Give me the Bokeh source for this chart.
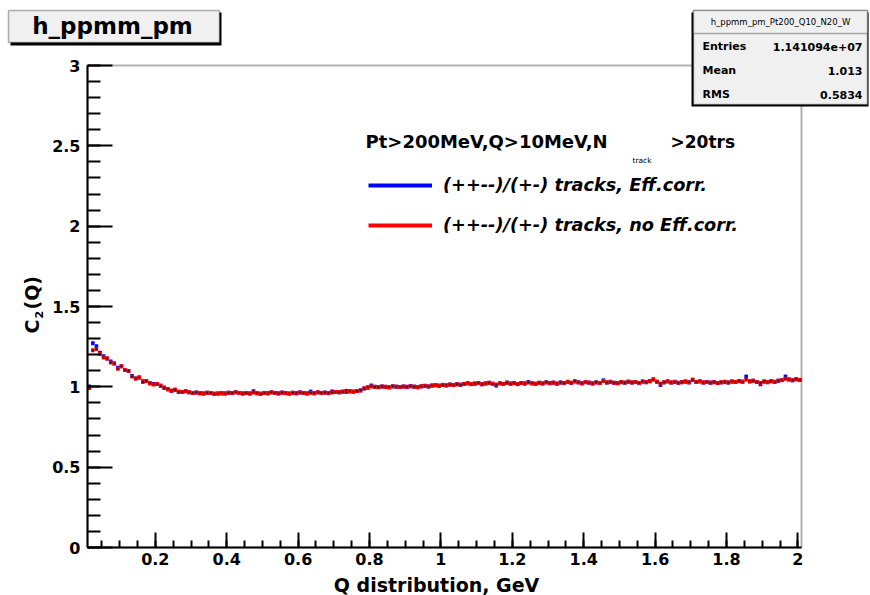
from math import pi
from bokeh.plotting import figure
from bokeh.models import (Range1d, FixedTicker, Label, BoxAnnotation, Legend,
                          LegendItem, ColumnDataSource)
from bokeh.embed import file_html
from bokeh.resources import INLINE

# ---------------- data ----------------
Q_MIN = 0.01
Q_MAX = 2.01
BIN_WIDTH = 0.01
Y_MIN = 0.0
Y_MAX = 3.0

# (++--)/(+-) tracks, no Eff.corr.  (red)
ratio_no_eff = [
    0.992, 1.228, 1.236, 1.205, 1.182, 1.176, 1.152, 1.146, 1.112, 1.128,
    1.104, 1.098, 1.064, 1.052, 1.058, 1.030, 1.036, 1.022, 1.014, 1.018,
    1.006, 0.992, 0.985, 0.976, 0.982, 0.970, 0.968, 0.972, 0.966, 0.962,
    0.965, 0.960, 0.958, 0.963, 0.961, 0.957, 0.959, 0.960, 0.958, 0.963,
    0.961, 0.966, 0.962, 0.958, 0.961, 0.959, 0.964, 0.960, 0.957, 0.962,
    0.960, 0.966, 0.962, 0.959, 0.964, 0.961, 0.958, 0.963, 0.960, 0.965,
    0.962, 0.959, 0.963, 0.960, 0.966, 0.962, 0.964, 0.961, 0.965, 0.968,
    0.966, 0.970, 0.968, 0.972, 0.970, 0.974, 0.978, 0.990, 0.998, 1.002,
    1.000, 0.998, 1.002, 1.000, 0.997, 1.003, 1.001, 0.999, 1.002, 1.000,
    1.004, 1.001, 0.998, 1.003, 1.006, 1.002, 1.008, 1.010, 1.007, 1.012,
    1.009, 1.014, 1.011, 1.016, 1.013, 1.018, 1.022, 1.017, 1.020, 1.024,
    1.016, 1.021, 1.025, 1.019, 1.014, 1.022, 1.018, 1.026, 1.020, 1.023,
    1.017, 1.024, 1.021, 1.027, 1.022, 1.019, 1.025, 1.021, 1.028, 1.023,
    1.026, 1.020, 1.027, 1.024, 1.031, 1.025, 1.034, 1.028, 1.022, 1.029,
    1.026, 1.021, 1.028, 1.024, 1.036, 1.027, 1.031, 1.025, 1.023, 1.029,
    1.026, 1.032, 1.027, 1.030, 1.024, 1.033, 1.029, 1.035, 1.046, 1.032,
    1.020, 1.028, 1.034, 1.027, 1.031, 1.025, 1.029, 1.033, 1.028, 1.044,
    1.030, 1.034, 1.027, 1.030, 1.026, 1.029, 1.024, 1.028, 1.031, 1.027,
    1.033, 1.030, 1.036, 1.032, 1.045, 1.034, 1.038, 1.030, 1.024, 1.033,
    1.029, 1.035, 1.031, 1.038, 1.042, 1.050, 1.046, 1.041, 1.047, 1.043,
]

# (++--)/(+-) tracks, Eff.corr.  (blue)
ratio_eff = [
    1.002, 1.272, 1.252, 1.212, 1.190, 1.176, 1.158, 1.146, 1.118, 1.128,
    1.104, 1.098, 1.068, 1.052, 1.058, 1.034, 1.036, 1.022, 1.018, 1.018,
    1.006, 0.996, 0.985, 0.976, 0.982, 0.970, 0.968, 0.972, 0.966, 0.962,
    0.965, 0.960, 0.958, 0.963, 0.961, 0.957, 0.959, 0.960, 0.958, 0.963,
    0.961, 0.966, 0.962, 0.958, 0.961, 0.959, 0.972, 0.960, 0.957, 0.962,
    0.960, 0.966, 0.962, 0.959, 0.964, 0.961, 0.958, 0.963, 0.960, 0.965,
    0.962, 0.959, 0.970, 0.960, 0.966, 0.962, 0.964, 0.961, 0.971, 0.968,
    0.966, 0.970, 0.974, 0.972, 0.970, 0.974, 0.978, 0.990, 0.994, 1.008,
    1.000, 0.998, 1.002, 1.000, 0.997, 1.003, 1.001, 0.999, 1.002, 1.000,
    1.004, 1.001, 0.998, 1.003, 1.006, 1.002, 1.008, 1.010, 1.007, 1.012,
    1.009, 1.014, 1.011, 1.016, 1.013, 1.018, 1.022, 1.017, 1.020, 1.024,
    1.016, 1.021, 1.025, 1.019, 1.008, 1.022, 1.018, 1.026, 1.020, 1.023,
    1.017, 1.024, 1.021, 1.030, 1.022, 1.019, 1.025, 1.021, 1.028, 1.023,
    1.026, 1.020, 1.027, 1.024, 1.031, 1.025, 1.034, 1.028, 1.022, 1.029,
    1.026, 1.021, 1.028, 1.024, 1.040, 1.027, 1.031, 1.025, 1.023, 1.029,
    1.026, 1.032, 1.027, 1.030, 1.024, 1.033, 1.029, 1.035, 1.046, 1.032,
    1.012, 1.028, 1.034, 1.027, 1.031, 1.025, 1.029, 1.033, 1.028, 1.044,
    1.030, 1.034, 1.027, 1.030, 1.026, 1.029, 1.024, 1.028, 1.031, 1.027,
    1.033, 1.030, 1.036, 1.032, 1.064, 1.034, 1.038, 1.030, 1.016, 1.033,
    1.029, 1.035, 1.031, 1.038, 1.042, 1.064, 1.046, 1.041, 1.047, 1.043,
]

x_ticks = [0.2, 0.4, 0.6, 0.8, 1.0, 1.2, 1.4, 1.6, 1.8, 2.0]
x_tick_labels = ["0.2", "0.4", "0.6", "0.8", "1", "1.2", "1.4", "1.6", "1.8", "2"]
y_ticks = [0.0, 0.5, 1.0, 1.5, 2.0, 2.5, 3.0]
y_tick_labels = ["0", "0.5", "1", "1.5", "2", "2.5", "3"]

hist_title = "h_ppmm_pm"
stats_title = "h_ppmm_pm_Pt200_Q10_N20_W"
stats_names = ["Entries", "Mean", "RMS"]
stats_values = ["1.141094e+07", "1.013", "0.5834"]
label_eff = "(++--)/(+-) tracks, Eff.corr."
label_no_eff = "(++--)/(+-) tracks, no Eff.corr."
x_title = "Q distribution, GeV"

# ---------------- layout ----------------
W, H = 870, 595
FL, FR, FT, FB = 87, 801, 65, 547   # histogram frame edges in canvas pixels
FONT = "DejaVu Sans"

# the Bokeh frame covers the whole canvas; the histogram frame sits inside it
ppx = (FR - FL) / (Q_MAX - Q_MIN)
ppy = (FB - FT) / (Y_MAX - Y_MIN)
x_range = Range1d(Q_MIN - FL / ppx, Q_MAX + (W - FR) / ppx)
y_range = Range1d(Y_MIN - (H - FB) / ppy, Y_MAX + FT / ppy)


def sx(cx):
    return cx


def sy(cy):
    return H - cy


nb = len(ratio_no_eff)
left = [round(Q_MIN + BIN_WIDTH * i, 4) for i in range(nb)]
right = [round(Q_MIN + BIN_WIDTH * (i + 1), 4) for i in range(nb)]
centers = [round(Q_MIN + BIN_WIDTH * (i + 0.5), 4) for i in range(nb)]

src = ColumnDataSource(dict(left=left, right=right, center=centers,
                            red=ratio_no_eff, blue=ratio_eff))

p = figure(width=W, height=H, x_range=x_range, y_range=y_range,
           output_backend="svg", toolbar_location=None,
           min_border=0, min_border_left=0, min_border_right=0,
           min_border_top=0, min_border_bottom=0)
p.title.text = ""
p.xgrid.visible = False
p.ygrid.visible = False
p.outline_line_color = None
p.background_fill_color = "white"
p.border_fill_color = "white"

p.xaxis.fixed_location = Y_MIN
p.yaxis.fixed_location = Q_MIN
p.xaxis.bounds = (Q_MIN, Q_MAX)
p.yaxis.bounds = (Y_MIN, Y_MAX)
p.xaxis.ticker = FixedTicker(ticks=x_ticks,
                             minor_ticks=[round(0.05 * k, 2) for k in range(1, 41)])
p.yaxis.ticker = FixedTicker(ticks=y_ticks,
                             minor_ticks=[round(0.1 * k, 1) for k in range(0, 31)])
p.xaxis.major_label_overrides = dict(zip(x_ticks, x_tick_labels))
p.yaxis.major_label_overrides = dict(zip(y_ticks, y_tick_labels))

for ax in (p.xaxis[0], p.yaxis[0]):
    ax.axis_line_color = "black"
    ax.axis_line_width = 2
    ax.major_tick_line_color = "black"
    ax.minor_tick_line_color = "black"
    ax.major_tick_line_width = 2
    ax.minor_tick_line_width = 2
    ax.major_tick_out = 0
    ax.minor_tick_out = 0
    ax.major_label_text_font = FONT
    ax.major_label_text_font_style = "bold"
    ax.major_label_text_font_size = "16px"
    ax.major_label_text_color = "black"

p.xaxis.major_tick_in = 15
p.xaxis.minor_tick_in = 7
p.yaxis.major_tick_in = 25
p.yaxis.minor_tick_in = 13
p.xaxis.major_label_standoff = 5
p.yaxis.major_label_standoff = 7

# histogram frame
p.add_layout(BoxAnnotation(left=Q_MIN, right=Q_MAX, bottom=Y_MIN, top=Y_MAX,
                           fill_alpha=0, line_color="black", line_width=2))

rb = p.segment(x0="left", x1="right", y0="blue", y1="blue", source=src,
               line_color="#0000ff", line_width=4)
rr = p.segment(x0="left", x1="right", y0="red", y1="red", source=src,
               line_color="#ff0000", line_width=4)
p.scatter("center", "red", source=src, marker="square", size=1.5,
          fill_color="black", line_color=None)

legend = Legend(items=[LegendItem(label=label_eff, renderers=[rb]),
                       LegendItem(label=label_no_eff, renderers=[rr])],
                location=(sx(368), sy(235)), orientation="vertical",
                glyph_width=64, glyph_height=20, label_height=20, label_standoff=11,
                spacing=20, padding=0, margin=0,
                border_line_color=None, background_fill_alpha=0,
                label_text_font=FONT, label_text_font_style="bold italic",
                label_text_font_size="17.7px", label_text_color="black")
p.add_layout(legend)


def box(l, t, r, b, fill, line=None, lw=1):
    p.add_layout(BoxAnnotation(left=sx(l), right=sx(r), top=sy(t), bottom=sy(b),
                               left_units="screen", right_units="screen",
                               top_units="screen", bottom_units="screen",
                               fill_color=fill, fill_alpha=1,
                               line_color=line, line_width=lw))


def label(cx, cy, text, size, style="bold", align="left", angle=0.0):
    # (cx, cy): canvas position of the text's vertical middle
    p.add_layout(Label(x=sx(cx), y=sy(cy), x_units="screen", y_units="screen",
                       text=text, text_font=FONT, text_font_size=size,
                       text_font_style=style, text_align=align,
                       text_baseline="middle", text_color="black", angle=angle))


# title box
box(10, 12, 221, 45, "black")
box(8, 10, 219, 42, "#f0f0f0", "black", 1.5)
label(112, 25, hist_title, "23px", align="center")

# stats box
box(691, 12, 868, 106, "black")
box(693, 10, 867, 104, "#f0f0f0", "black", 1.5)
box(693, 10, 867, 33, "#f0f0f0", "black", 1.5)
label(780, 21.5, stats_title, "8.5px", style="normal", align="center")
for i, (n, v) in enumerate(zip(stats_names, stats_values)):
    yc = 46 + 24 * i
    label(702, yc, n, "11px")
    label(862, yc, v, "11px", align="right")

# legend header
label(365, 141, "Pt>200MeV,Q>10MeV,N", "18px")
label(632, 159.5, "track", "7.5px", style="normal")
label(670, 141, ">20trs", "17px")

# axis titles
label(436, 584, x_title, "19px", align="center")
label(31, 333, "C", "19px", angle=pi / 2)
label(38, 318, "2", "11px", angle=pi / 2)
label(31, 309, "(Q)", "19px", angle=pi / 2)

open("out.html", "w").write(file_html(p, INLINE))
